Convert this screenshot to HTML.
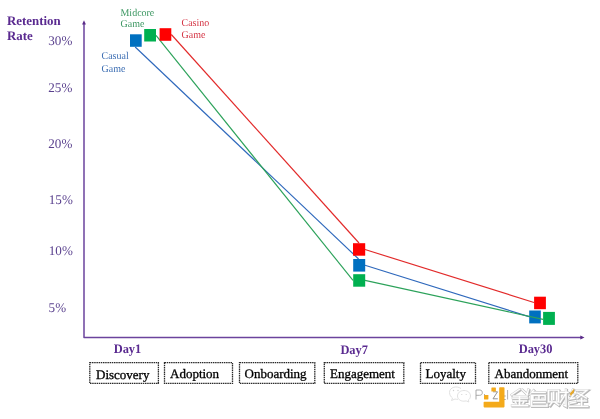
<!DOCTYPE html>
<html><head><meta charset="utf-8">
<style>
html,body{margin:0;padding:0;background:#fff;}
body{width:600px;height:419px;overflow:hidden;position:relative;}
svg{position:absolute;left:0;top:0;display:block;will-change:transform;}
text{font-family:"Liberation Serif",serif;text-rendering:geometricPrecision;}
</style></head>
<body>
<svg width="600" height="419" viewBox="0 0 600 419">
<rect x="0" y="0" width="600" height="419" fill="#fff"/>
<path d="M84 24 L84 337.5 L581 337.5" fill="none" stroke="#6b439d" stroke-width="1.5" stroke-linejoin="round"/>
<path d="M84 20.2 L82.1 24.4 L85.9 24.4 Z" fill="#5a2a88"/>
<path d="M584.5 337.5 L580.3 335.6 L580.3 339.4 Z" fill="#5a2a88"/>
<text transform="translate(7 24.8) scale(0.99 1)" x="0" y="0" font-size="13" fill="#5a2a90" font-weight="bold">Retention</text>
<text transform="translate(7 40) scale(0.99 1)" x="0" y="0" font-size="13" fill="#5a2a90" font-weight="bold">Rate</text>
<text transform="translate(113.7 352.6) scale(0.955 1)" x="0" y="0" font-size="13" fill="#5a2a90" font-weight="bold">Day1</text>
<text transform="translate(340.4 353.6) scale(0.955 1)" x="0" y="0" font-size="13" fill="#5a2a90" font-weight="bold">Day7</text>
<text transform="translate(518.7 352.6) scale(0.955 1)" x="0" y="0" font-size="13" fill="#5a2a90" font-weight="bold">Day30</text>
<text transform="translate(48.3 44.7) scale(0.985 1)" x="0" y="0" font-size="13.3" fill="#5a418e">30%</text>
<text transform="translate(48.3 92.3) scale(0.985 1)" x="0" y="0" font-size="13.3" fill="#5a418e">25%</text>
<text transform="translate(48.3 147.7) scale(0.985 1)" x="0" y="0" font-size="13.3" fill="#5a418e">20%</text>
<text transform="translate(48.8 203.7) scale(0.985 1)" x="0" y="0" font-size="13.3" fill="#5a418e">15%</text>
<text transform="translate(48.8 255) scale(0.985 1)" x="0" y="0" font-size="13.3" fill="#5a418e">10%</text>
<text transform="translate(48.6 312) scale(0.985 1)" x="0" y="0" font-size="13.3" fill="#5a418e">5%</text>
<text transform="translate(120.5 15.75) scale(0.96 1)" x="0" y="0" font-size="10.4" fill="#3a9660">Midcore</text>
<text transform="translate(120.5 27) scale(0.96 1)" x="0" y="0" font-size="10.4" fill="#3a9660">Game</text>
<text transform="translate(181.5 25.8) scale(0.96 1)" x="0" y="0" font-size="10.4" fill="#d43242">Casino</text>
<text transform="translate(181.5 37.9) scale(0.96 1)" x="0" y="0" font-size="10.4" fill="#d43242">Game</text>
<text transform="translate(101.5 59.1) scale(0.96 1)" x="0" y="0" font-size="10.4" fill="#3a6cb2">Casual</text>
<text transform="translate(101.5 71.5) scale(0.96 1)" x="0" y="0" font-size="10.4" fill="#3a6cb2">Game</text>
<path d="M135.2 47 L358.6 259" fill="none" stroke="#2e68bc" stroke-width="1.15"/>
<path d="M365 265.3 L529 316.6" fill="none" stroke="#2e68bc" stroke-width="1.15"/>
<rect x="130" y="34.3" width="11.7" height="12.5" fill="#0070C0"/>
<rect x="353.2" y="259" width="12" height="12.6" fill="#0070C0"/>
<rect x="529.2" y="310.5" width="11.6" height="12.9" fill="#0070C0"/>
<path d="M156 35.3 L353 280.4" fill="none" stroke="#2ca25a" stroke-width="1.15"/>
<path d="M365 280.4 L543 319.4" fill="none" stroke="#2ca25a" stroke-width="1.15"/>
<rect x="144.2" y="29" width="11.8" height="12.5" fill="#00B050"/>
<rect x="353.2" y="274.2" width="12" height="12.5" fill="#00B050"/>
<rect x="543.1" y="311.9" width="11.8" height="13" fill="#00B050"/>
<path d="M171.3 34.5 L359 243" fill="none" stroke="#e22a2a" stroke-width="1.15"/>
<path d="M365 249.5 L534 302.5" fill="none" stroke="#e22a2a" stroke-width="1.15"/>
<rect x="159.6" y="28.2" width="11.7" height="12.6" fill="#FF0000"/>
<rect x="353" y="243.2" width="12.2" height="12.5" fill="#FF0000"/>
<rect x="534.1" y="296.7" width="11.8" height="12.5" fill="#FF0000"/>
<g fill="none" stroke="#2a2a2a" stroke-width="1.3" stroke-dasharray="1.5 0.7">
<rect x="89.8" y="362.7" width="68.6" height="20.7"/>
<rect x="164.5" y="362.7" width="68.0" height="20.7"/>
<rect x="239.5" y="362.7" width="75.3" height="20.7"/>
<rect x="324.3" y="362.7" width="79.5" height="20.7"/>
<rect x="420.5" y="362.7" width="55.0" height="20.7"/>
<rect x="488.8" y="362.7" width="89.0" height="20.7"/>
</g>
<text x="96" y="378.5" font-size="13" fill="#000" stroke="#000" stroke-width="0.3">Discovery</text>
<text x="170" y="377.7" font-size="13" fill="#000" stroke="#000" stroke-width="0.3">Adoption</text>
<text x="244.5" y="377.5" font-size="13" fill="#000" stroke="#000" stroke-width="0.3">Onboarding</text>
<text x="330" y="377.7" font-size="13" fill="#000" stroke="#000" stroke-width="0.3">Engagement</text>
<text x="425.5" y="377.7" font-size="13" fill="#000" stroke="#000" stroke-width="0.3">Loyalty</text>
<text x="494.5" y="377.7" font-size="13" fill="#000" stroke="#000" stroke-width="0.3">Abandonment</text>
<g fill="none" stroke-linecap="square" stroke-linejoin="miter">
<path transform="translate(511.6 390.1)" d="M8.7 0 L0.8 5.4 M11.3 0.3 L16.6 5.4 M17.6 0.2 L16.2 5.2 M2.6 6.8 H16 M2 8.8 H16.6 M8.7 6.8 V16.2 M2.4 11.6 H15.6 M1.2 16.2 H16.8 M4.6 12.8 L5.4 14.4 M12.8 12.8 L12 14.4" stroke="#b4b4b4" stroke-width="2.6"/>
<path transform="translate(532.0 390.3)" d="M0.6 2.8 H14 M2.4 0.8 L0.6 2.8 M1.7 5.8 H14 V10.3 H1.7 Z M7.7 5.8 V10.3 M0.4 5.8 V16.5 H15.8 V14.8 M2.4 13.1 H14" stroke="#b4b4b4" stroke-width="2.6"/>
<path transform="translate(549.4 390.2)" d="M0 0.8 H10 V12.5 H0 Z M5 3 V10 M3.4 13 L1.2 16 M6.6 13 L10 15.5 M11.6 3 H19.4 M17.4 0 V16.8 L15.5 15.8 M16.6 5 L11.6 13" stroke="#b4b4b4" stroke-width="2.6"/>
<path transform="translate(570.4 390.2)" d="M3.4 0 L0.6 5.4 L4 5.4 L0.6 9.4 L5 8.6 M0.6 13.8 L6 12.8 M7 0.8 H17.4 L7.6 8.6 M8.2 3.6 L16.6 8.6 M8 11.4 H16.6 M12 9 V16.6 M0 17 H18" stroke="#b4b4b4" stroke-width="2.6"/>
<path transform="translate(510.8 389.3)" d="M8.7 0 L0.8 5.4 M11.3 0.3 L16.6 5.4 M17.6 0.2 L16.2 5.2 M2.6 6.8 H16 M2 8.8 H16.6 M8.7 6.8 V16.2 M2.4 11.6 H15.6 M1.2 16.2 H16.8 M4.6 12.8 L5.4 14.4 M12.8 12.8 L12 14.4" stroke="#d2d2d2" stroke-width="2.4"/>
<path transform="translate(531.2 389.5)" d="M0.6 2.8 H14 M2.4 0.8 L0.6 2.8 M1.7 5.8 H14 V10.3 H1.7 Z M7.7 5.8 V10.3 M0.4 5.8 V16.5 H15.8 V14.8 M2.4 13.1 H14" stroke="#d2d2d2" stroke-width="2.4"/>
<path transform="translate(548.6 389.4)" d="M0 0.8 H10 V12.5 H0 Z M5 3 V10 M3.4 13 L1.2 16 M6.6 13 L10 15.5 M11.6 3 H19.4 M17.4 0 V16.8 L15.5 15.8 M16.6 5 L11.6 13" stroke="#d2d2d2" stroke-width="2.4"/>
<path transform="translate(569.6 389.4)" d="M3.4 0 L0.6 5.4 L4 5.4 L0.6 9.4 L5 8.6 M0.6 13.8 L6 12.8 M7 0.8 H17.4 L7.6 8.6 M8.2 3.6 L16.6 8.6 M8 11.4 H16.6 M12 9 V16.6 M0 17 H18" stroke="#d2d2d2" stroke-width="2.4"/>
<path transform="translate(510.8 389.3)" d="M8.7 0 L0.8 5.4 M11.3 0.3 L16.6 5.4 M17.6 0.2 L16.2 5.2 M2.6 6.8 H16 M2 8.8 H16.6 M8.7 6.8 V16.2 M2.4 11.6 H15.6 M1.2 16.2 H16.8 M4.6 12.8 L5.4 14.4 M12.8 12.8 L12 14.4" stroke="#ffffff" stroke-width="1.3"/>
<path transform="translate(531.2 389.5)" d="M0.6 2.8 H14 M2.4 0.8 L0.6 2.8 M1.7 5.8 H14 V10.3 H1.7 Z M7.7 5.8 V10.3 M0.4 5.8 V16.5 H15.8 V14.8 M2.4 13.1 H14" stroke="#ffffff" stroke-width="1.3"/>
<path transform="translate(548.6 389.4)" d="M0 0.8 H10 V12.5 H0 Z M5 3 V10 M3.4 13 L1.2 16 M6.6 13 L10 15.5 M11.6 3 H19.4 M17.4 0 V16.8 L15.5 15.8 M16.6 5 L11.6 13" stroke="#ffffff" stroke-width="1.3"/>
<path transform="translate(569.6 389.4)" d="M3.4 0 L0.6 5.4 L4 5.4 L0.6 9.4 L5 8.6 M0.6 13.8 L6 12.8 M7 0.8 H17.4 L7.6 8.6 M8.2 3.6 L16.6 8.6 M8 11.4 H16.6 M12 9 V16.6 M0 17 H18" stroke="#ffffff" stroke-width="1.3"/>
</g>
<path d="M574.3 388.6 L569.8 393.6 L570.8 396 L573.9 392.2 Z" fill="#e6a82c"/>
<g fill="none" stroke="#dedede" stroke-width="0.9">
<path d="M461 388.5 C457 385.5 449.5 387 449.5 392.5 C449.5 395 451 397 452.5 398 L451.5 400.5 L455 399 C456 399.3 457 399.4 458 399.3"/>
<path d="M464 390.5 C468 390.5 470.5 393 470.5 396 C470.5 397.8 469.5 399.2 468.3 400 L468.8 402 L466.2 400.9 C465.5 401.1 464.7 401.2 464 401.2 C460 401.2 457.5 398.8 457.5 396 C457.5 393 460 390.5 464 390.5 Z"/>
</g>
<g fill="#d0d0d0"><circle cx="453.5" cy="390.5" r="0.7"/><circle cx="458" cy="390.5" r="0.7"/><circle cx="461.8" cy="394.5" r="0.6"/><circle cx="466.2" cy="394.5" r="0.6"/></g>
<path d="M476 399.5 V390 H479.5 C482 390 482.3 391.5 482.3 392.8 C482.3 394.2 481.5 395.3 479.5 395.3 H476" fill="none" stroke="#999" stroke-width="0.85"/>
<path d="M493 391.8 H497.5 L493 398.8 H497.8" fill="none" stroke="#8a8a8a" stroke-width="0.9"/>
<path d="M507.6 390 V399.5" stroke="#9a9a9a" stroke-width="0.8"/>
<path d="M484.5 394 V398" stroke="#888" stroke-width="0.7"/>
<path d="M499.2 388 Q499.2 387.2 500 387.2 H503.8 Q504.5 387.2 504.5 388 V406.6 Q504.5 407.4 503.8 407.4 H484.3 Q483.6 407.4 483.6 406.6 V402.6 Q483.6 401.8 484.3 401.8 H499.2 Z" fill="#F4AA1A"/>
<rect x="484" y="395.1" width="4.4" height="4.4" rx="0.4" fill="#F4AA1A"/>
<rect x="491.4" y="387.5" width="4.5" height="4.1" rx="0.4" fill="#F4AA1A"/>
<path d="M505 395.5 V396.5 M505 399 V400" stroke="#555" stroke-width="0.7"/>
</svg>
</body></html>
